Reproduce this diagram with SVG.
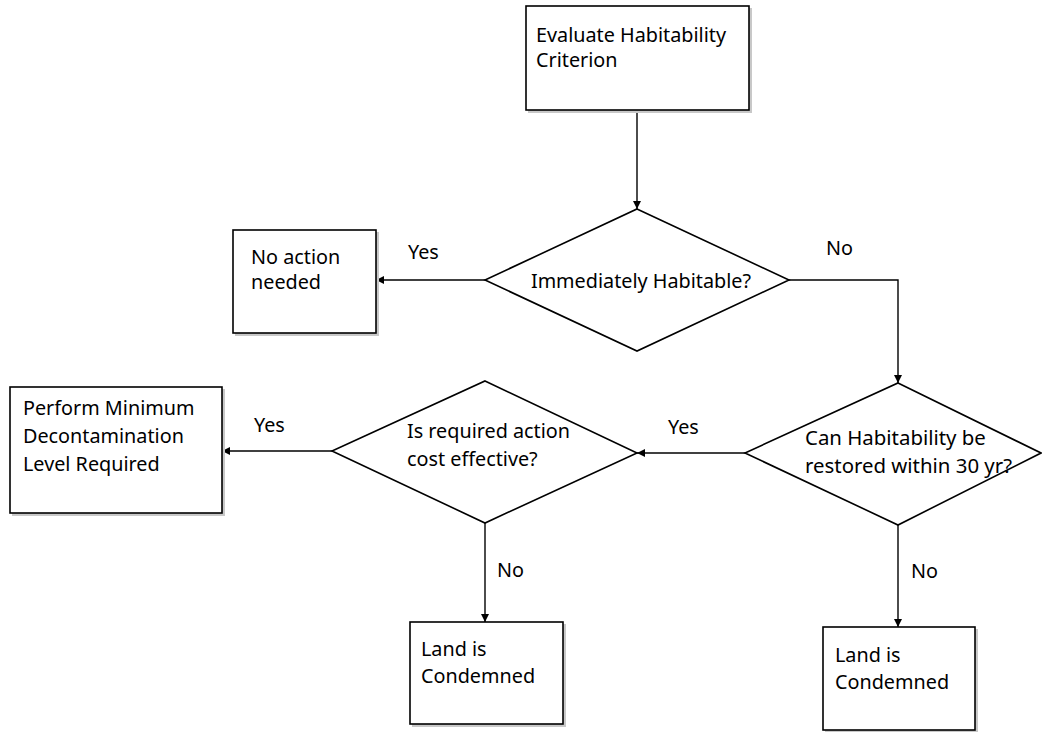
<svg xmlns="http://www.w3.org/2000/svg" width="1042" height="733" viewBox="0 0 1042 733">
<style>
.box{fill:#fff;stroke:#000;stroke-width:1.6}
.sh{fill:#c8c8c8;stroke:none}
.dia{fill:#fff;stroke:#000;stroke-width:1.6}
.t{font-family:"Noto Sans","Open Sans",sans-serif;font-size:19.8px;fill:#000}
.c{fill:none;stroke:#000;stroke-width:1.4}
</style>
<defs>
<marker id="ah" viewBox="0 0 10 10" refX="10" refY="5" markerWidth="8" markerHeight="8" markerUnits="userSpaceOnUse" orient="auto">
<path d="M0,0 L10,5 L0,10 z" fill="#000"/>
</marker>
</defs>
<rect width="1042" height="733" fill="#fff"/>
<g id="connectors">
<path class="c" d="M637,110 V209" marker-end="url(#ah)"/>
<path class="c" d="M485,280 H376" marker-end="url(#ah)"/>
<path class="c" d="M789,280 H898 V383" marker-end="url(#ah)"/>
<path class="c" d="M745,453 H637" marker-end="url(#ah)"/>
<path class="c" d="M332,451 H222" marker-end="url(#ah)"/>
<path class="c" d="M485,523 V622" marker-end="url(#ah)"/>
<path class="c" d="M898,525 V627" marker-end="url(#ah)"/>
<text class="t" x="408" y="259">Yes</text>
<text class="t" x="826" y="255">No</text>
<text class="t" x="668" y="434">Yes</text>
<text class="t" x="254" y="432">Yes</text>
<text class="t" x="497" y="577">No</text>
<text class="t" x="911" y="578">No</text>
</g>
<g id="evaluate">
<rect class="sh" x="528" y="8" width="224" height="105"/>
<rect class="box" x="526" y="6" width="223" height="104"/>
<text class="t" x="536" y="42">Evaluate Habitability</text>
<text class="t" x="536" y="67">Criterion</text>
</g>
<g id="immediately">
<polygon class="dia" points="637,209 789,280 637,351 485,280"/>
<text class="t" x="641" y="288" text-anchor="middle">Immediately Habitable?</text>
</g>
<g id="noaction">
<rect class="sh" x="235" y="232" width="144" height="104"/>
<rect class="box" x="233" y="230" width="143" height="103"/>
<text class="t" x="251" y="264">No action</text>
<text class="t" x="251" y="289">needed</text>
</g>
<g id="restore">
<polygon class="dia" points="898,383 1041,453 898,525 745,453"/>
<text class="t" x="805" y="445" style="font-size:20.4px">Can Habitability be</text>
<text class="t" x="805" y="473" style="font-size:20.4px">restored within 30 yr?</text>
</g>
<g id="costeffective">
<polygon class="dia" points="485,381 637,453 485,523 332,451"/>
<text class="t" x="407" y="438">Is required action</text>
<text class="t" x="407" y="466">cost effective?</text>
</g>
<g id="perform">
<rect class="sh" x="12" y="389" width="213" height="127"/>
<rect class="box" x="10" y="387" width="212" height="126"/>
<text class="t" x="23" y="415">Perform Minimum</text>
<text class="t" x="23" y="443">Decontamination</text>
<text class="t" x="23" y="471">Level Required</text>
</g>
<g id="condemned1">
<rect class="sh" x="412" y="624" width="154" height="103"/>
<rect class="box" x="410" y="622" width="153" height="102"/>
<text class="t" x="421" y="656">Land is</text>
<text class="t" x="421" y="683">Condemned</text>
</g>
<g id="condemned2">
<rect class="sh" x="825" y="629" width="153" height="103"/>
<rect class="box" x="823" y="627" width="152" height="103"/>
<text class="t" x="835" y="662">Land is</text>
<text class="t" x="835" y="689">Condemned</text>
</g>
</svg>
